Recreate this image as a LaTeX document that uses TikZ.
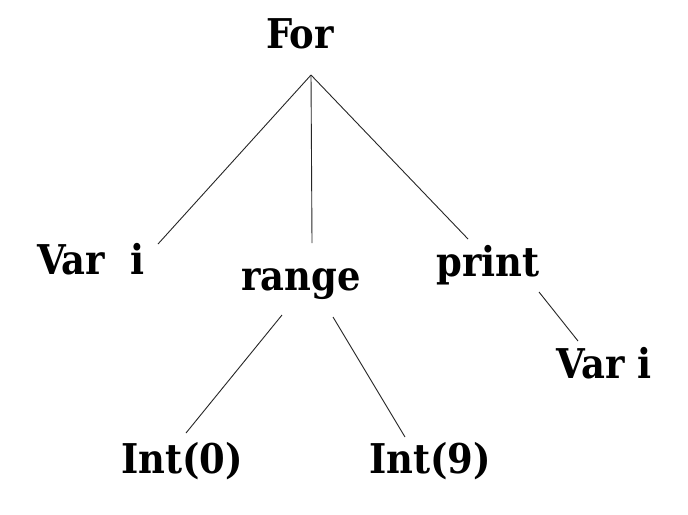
\documentclass[tikz,border=0pt]{standalone}
\usepackage{fontspec}
\setmainfont{DejaVu Serif Condensed}

\tikzset{
  astnode/.style={anchor=base, inner sep=0pt, font=\fontsize{20.5}{24}\selectfont\bfseries},
  astedge/.style={line width=0.45pt, black!85}
}

\begin{document}
\begin{tikzpicture}[x=0.5pt, y=-0.5pt]

  \useasboundingbox[fill=white] (0, 0) rectangle (688, 514);

  % NODES
  \node[astnode] (for) at (300, 48) {For};
  \node[astnode] (vari) at (91, 274) {Var\ \ i};
  \node[astnode] (range) at (301, 290) {range};
  \node[astnode] (print) at (488, 276) {print};
  \node[astnode] (printvar) at (604, 378) {Var i};
  \node[astnode] (int0) at (182, 473) {Int(0)};
  \node[astnode] (int9) at (430, 473) {Int(9)};

  % ENDS OF THE EDGES
  \coordinate (for-foot) at (311, 75);
  \coordinate (vari-top) at (158, 244);
  \coordinate (range-top) at (312, 243);
  \coordinate (print-top) at (468, 239);
  \coordinate (range-left) at (282, 315);
  \coordinate (range-right) at (333, 317);
  \coordinate (int0-top) at (186, 433);
  \coordinate (int9-top) at (405, 437);
  \coordinate (print-foot) at (539, 292);
  \coordinate (printvar-top) at (578, 341);

  % EDGES
  \draw[astedge] (for-foot) -- (vari-top);
  \draw[astedge] (for-foot) -- (range-top);
  \draw[astedge] (for-foot) -- (print-top);
  \draw[astedge] (range-left) -- (int0-top);
  \draw[astedge] (range-right) -- (int9-top);
  \draw[astedge] (print-foot) -- (printvar-top);

\end{tikzpicture}
\end{document}
